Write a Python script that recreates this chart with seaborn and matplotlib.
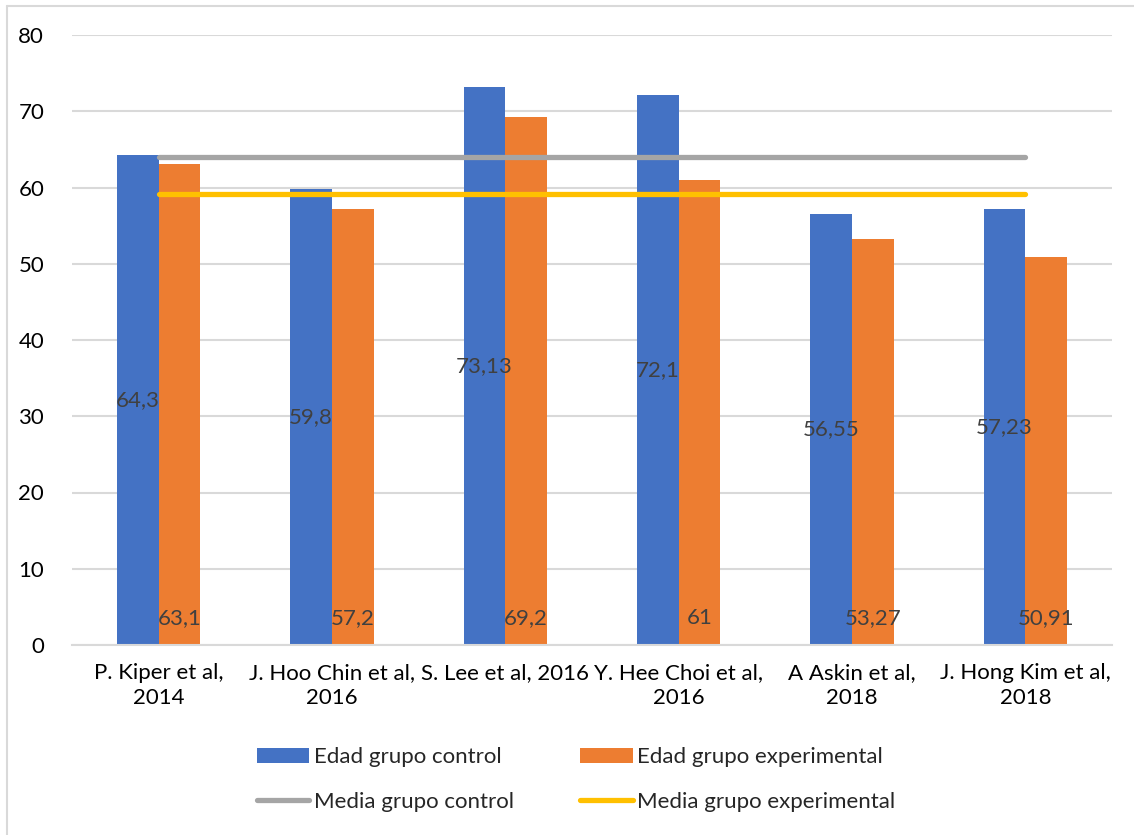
import matplotlib
matplotlib.use("Agg")
import matplotlib.pyplot as plt
from matplotlib.lines import Line2D
from matplotlib.patches import Patch
import seaborn as sns
import pandas as pd

# Study labels and mean ages per group
estudios = [
    "P. Kiper et al,\n2014",
    "J. Hoo Chin et al,\n2016",
    "S. Lee et al, 2016",
    "Y. Hee Choi et al,\n2016",
    "A Askin et al,\n2018",
    "J. Hong Kim et al,\n2018",
]
edad_control = [64.3, 59.8, 73.13, 72.1, 56.55, 57.23]
edad_experimental = [63.1, 57.2, 69.2, 61, 53.27, 50.91]
media_control = [63.95, 63.95, 63.95, 63.95, 63.95, 63.95]
media_experimental = [59.11, 59.11, 59.11, 59.11, 59.11, 59.11]

series_barras = ["Edad grupo control", "Edad grupo experimental"]
series_lineas = ["Media grupo control", "Media grupo experimental"]
y_ticks = [0, 10, 20, 30, 40, 50, 60, 70, 80]

AZUL, NARANJA, GRIS, AMARILLO = "#4472C4", "#ED7D31", "#A5A5A5", "#FFC000"
TEXTO, REJILLA = "#404040", "#D9D9D9"
FS = 16

sns.set_theme(style="white")
plt.rcParams["font.family"] = ["Lato", "DejaVu Sans"]

df = pd.DataFrame({
    "estudio": estudios * 2,
    "edad": edad_control + edad_experimental,
    "serie": [series_barras[0]] * len(estudios) + [series_barras[1]] * len(estudios),
})

fig = plt.figure(figsize=(11.34, 8.35), dpi=100)
ax = fig.add_axes([72 / 1134, 1 - 645 / 835, (1112 - 72) / 1134, (645 - 35) / 835])

sns.barplot(data=df, x="estudio", y="edad", hue="serie", order=estudios,
            hue_order=series_barras, palette=[AZUL, NARANJA], width=0.48,
            saturation=1, linewidth=0, errorbar=None, ax=ax, legend=False)

pos = list(range(len(estudios)))
sns.lineplot(x=pos, y=media_control, color=GRIS, linewidth=3.8, ax=ax,
             solid_capstyle="round", zorder=4)
sns.lineplot(x=pos, y=media_experimental, color=AMARILLO, linewidth=3.8, ax=ax,
             solid_capstyle="round", zorder=4)


def etiqueta(v):
    return f"{v:g}".replace(".", ",")


# Control labels centred in the bar, experimental labels at the base
for rect, v in zip(ax.containers[0], edad_control):
    ax.text(rect.get_x() + rect.get_width() / 2, v / 2, etiqueta(v),
            ha="center", va="center", fontsize=FS, color=TEXTO, zorder=5)
for rect, v in zip(ax.containers[1], edad_experimental):
    ax.text(rect.get_x() + rect.get_width() / 2, 3.5, etiqueta(v),
            ha="center", va="center", fontsize=FS, color=TEXTO, zorder=5)

ax.set_xlim(-0.5, len(estudios) - 0.5)
ax.set_ylim(0, 80)
ax.set_yticks(y_ticks)
ax.set_yticklabels([str(t) for t in y_ticks], fontsize=FS, color="black")
ax.set_xticks(pos)
ax.set_xticklabels(estudios, fontsize=FS, color="black", linespacing=1.3)
ax.tick_params(axis="y", length=0, pad=20)
ax.tick_params(axis="x", length=0, pad=13)
ax.set_xlabel("")
ax.set_ylabel("")
ax.grid(axis="y", color=REJILLA, linewidth=1.5)
ax.set_axisbelow(True)
for s in ["top", "right", "left"]:
    ax.spines[s].set_visible(False)
ax.spines["bottom"].set_color(REJILLA)
ax.spines["bottom"].set_linewidth(1.5)

handles = [
    Patch(facecolor=AZUL, edgecolor="none"),
    Line2D([], [], color=GRIS, linewidth=3.8, solid_capstyle="round"),
    Patch(facecolor=NARANJA, edgecolor="none"),
    Line2D([], [], color=AMARILLO, linewidth=3.8, solid_capstyle="round"),
]
labels = [series_barras[0], series_lineas[0], series_barras[1], series_lineas[1]]
fig.legend(handles, labels, ncol=2, loc="center", bbox_to_anchor=(0.508, 0.0665),
           frameon=False, fontsize=FS, handlelength=2.35, handleheight=0.7,
           handletextpad=0.2, columnspacing=3.0, labelspacing=1.1)

# Chart area frame (left and top edges)
fig.add_artist(Line2D([7 / 1134, 7 / 1134], [0, 1 - 6 / 835], transform=fig.transFigure,
                      color=REJILLA, linewidth=1.5))
fig.add_artist(Line2D([7 / 1134, 1], [1 - 6 / 835, 1 - 6 / 835], transform=fig.transFigure,
                      color=REJILLA, linewidth=1.5))

fig.savefig("out.png", dpi=100, facecolor="white")
